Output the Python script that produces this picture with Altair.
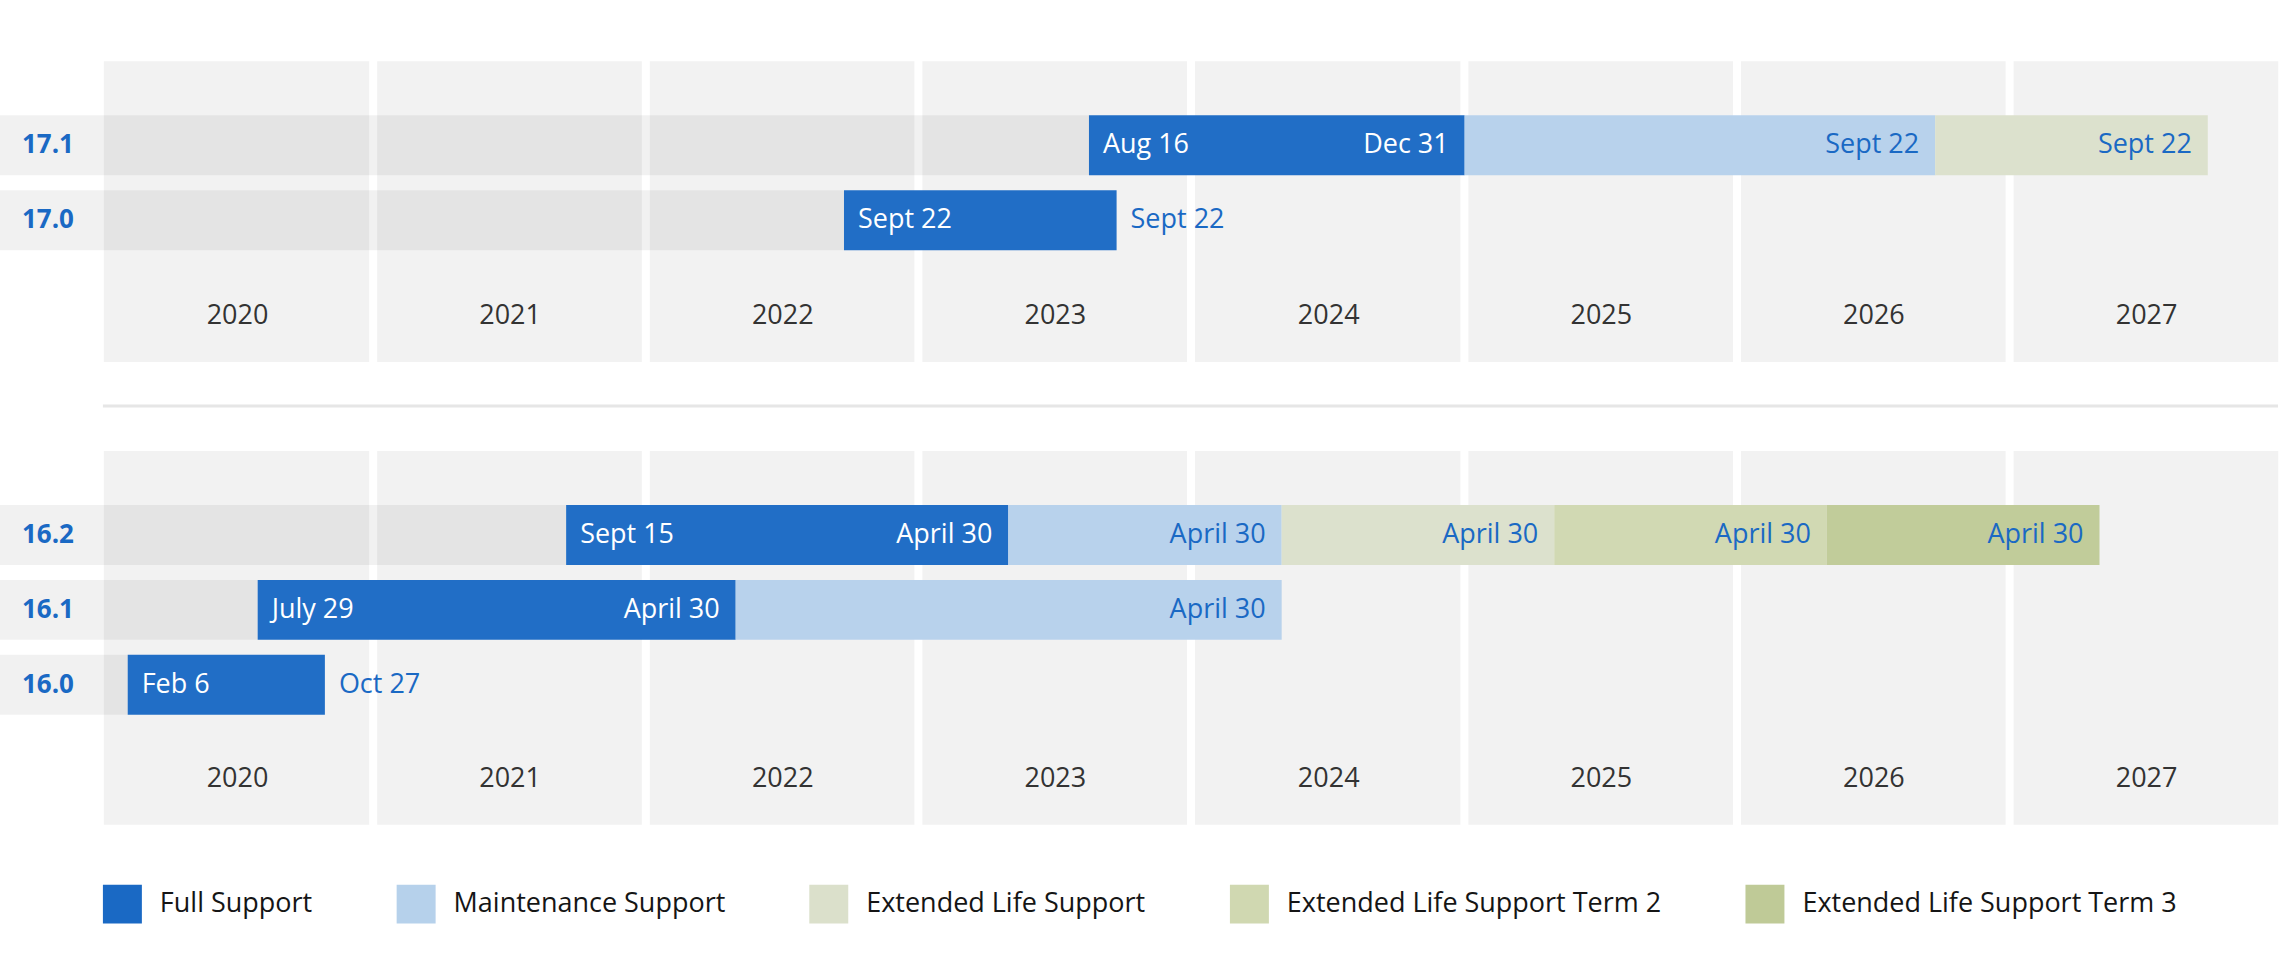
import altair as alt
import pandas as pd

# ---------------- data ----------------
releases_top = ["17.1", "17.0"]
releases_bottom = ["16.2", "16.1", "16.0"]

years = [2020, 2021, 2022, 2023, 2024, 2025, 2026, 2027]

phases = ["Full Support", "Maintenance Support", "Extended Life Support",
          "Extended Life Support Term 2", "Extended Life Support Term 3"]
phase_colors = ["#1a69c4", "#b6d1eb", "#dbe0cb", "#d0d8b1", "#bfca97"]

seg_release = ["17.1", "17.1", "17.1", "17.0",
               "16.2", "16.2", "16.2", "16.2", "16.2",
               "16.1", "16.1", "16.0"]
seg_phase = ["Full Support", "Maintenance Support", "Extended Life Support", "Full Support",
             "Full Support", "Maintenance Support", "Extended Life Support",
             "Extended Life Support Term 2", "Extended Life Support Term 3",
             "Full Support", "Maintenance Support", "Full Support"]
seg_start = ["2023-08-16", "2024-12-31", "2026-09-22", "2022-09-22",
             "2021-09-15", "2023-04-30", "2024-04-30", "2025-04-30", "2026-04-30",
             "2020-07-29", "2022-04-30", "2020-02-06"]
seg_end = ["2024-12-31", "2026-09-22", "2027-09-22", "2023-09-22",
           "2023-04-30", "2024-04-30", "2025-04-30", "2026-04-30", "2027-04-30",
           "2022-04-30", "2024-04-30", "2020-10-27"]
seg_start_label = ["Aug 16", "", "", "Sept 22",
                   "Sept 15", "", "", "", "",
                   "July 29", "", "Feb 6"]
seg_end_label = ["Dec 31", "Sept 22", "Sept 22", "Sept 22",
                 "April 30", "April 30", "April 30", "April 30", "April 30",
                 "April 30", "April 30", "Oct 27"]

# ---------------- tables ----------------
segs = pd.DataFrame({
    "release": seg_release, "phase": seg_phase,
    "start": seg_start, "end": seg_end,
    "start_label": seg_start_label, "end_label": seg_end_label,
})
counts = segs.groupby("release")["phase"].transform("count")
segs["only"] = counts == 1
segs["first"] = ~segs.duplicated("release")
segs["full"] = segs["phase"] == "Full Support"

years_df = pd.DataFrame({
    "label": [str(y) for y in years],
    "ys": [f"{y}-01-01" for y in years],
    "ye": [f"{y + 1}-01-01" for y in years],
    "ym": [f"{y}-07-02" for y in years],
})

FONT = "Open Sans"
BLUE = "#1a69c4"
FS = 27

xscale = alt.Scale(
    domain=[alt.DateTime(year=2019, month=8, date=19),
            alt.DateTime(year=2027, month=12, date=25)],
    nice=False,
)

legend = alt.Legend(
    orient="none", legendX=103, legendY=824, direction="horizontal",
    title=None, symbolType="square", symbolSize=1521, symbolStrokeWidth=0,
    symbolOpacity=1, labelFont=FONT, labelFontSize=27, labelFontWeight=500,
    labelColor="#151515", labelOffset=18, columnPadding=84, padding=0,
    labelLimit=0,
)


def panel(rels, H, separator=False):
    n = len(rels)
    yscale = alt.Scale(domain=rels, range=[46.5, 46.5 + 75 * n],
                       paddingInner=0.2, paddingOuter=0.1)
    d = segs[segs["release"].isin(rels)]
    first = d[d["first"]]
    Y = alt.Y("release:N", scale=yscale, axis=None)

    cols = alt.Chart(years_df).mark_rect(color="#f2f2f2", xOffset=3, x2Offset=-5).encode(
        x=alt.X("ys:T", scale=xscale, axis=None), x2="ye:T",
        y=alt.value(0), y2=alt.value(H))

    bands = alt.Chart(first).mark_rect(color="black", opacity=0.055).encode(
        x=alt.X("start:T", scale=xscale, axis=None), x2=alt.value(0), y=Y)

    bars = alt.Chart(d).mark_rect(opacity=0.97).encode(
        x=alt.X("start:T", scale=xscale, axis=None), x2="end:T", y=Y,
        color=alt.Color("phase:N", scale=alt.Scale(domain=phases, range=phase_colors),
                        legend=legend))

    start_lbl = alt.Chart(first).mark_text(
        align="left", baseline="middle", dx=14, color="white",
        font=FONT, fontSize=FS, fontWeight=500).encode(
        x=alt.X("start:T", scale=xscale, axis=None), y=Y, text="start_label:N")

    end_in = alt.Chart(d[~d["only"]]).mark_text(
        align="right", baseline="middle", dx=-16,
        font=FONT, fontSize=FS, fontWeight=500).encode(
        x=alt.X("end:T", scale=xscale, axis=None), y=Y, text="end_label:N",
        color=alt.condition("datum.full", alt.value("white"), alt.value(BLUE)))

    end_out = alt.Chart(d[d["only"]]).mark_text(
        align="left", baseline="middle", dx=14, color=BLUE,
        font=FONT, fontSize=FS, fontWeight=500).encode(
        x=alt.X("end:T", scale=xscale, axis=None), y=Y, text="end_label:N")

    row_lbl = alt.Chart(first).mark_text(
        align="left", baseline="middle", color=BLUE,
        font=FONT, fontSize=26, fontWeight="bold").encode(
        x=alt.value(22), y=Y, text="release:N")

    year_lbl = alt.Chart(years_df).mark_text(
        align="center", baseline="middle", color="#333333",
        font=FONT, fontSize=FS).encode(
        x=alt.X("ym:T", scale=xscale, axis=None), y=alt.value(H - 46), text="label:N")

    layers = [cols, bands, bars, start_lbl, end_in, end_out, row_lbl, year_lbl]
    if separator:
        sep = alt.Chart(pd.DataFrame({"k": [0]})).mark_rule(
            color="#e6e6e6", strokeWidth=3).encode(
            x=alt.value(103), x2=alt.value(2280), y=alt.value(-45))
        layers.append(sep)
    return alt.layer(*layers).properties(width=2280, height=H)


top = panel(releases_top, 301)
bottom = panel(releases_bottom, 374, separator=True)

chart = alt.vconcat(top, bottom, spacing=89, bounds="flush").resolve_scale(
    color="shared", y="independent", x="shared"
).resolve_legend(color="shared").properties(
    padding={"top": 61, "left": 0, "right": 0, "bottom": 0},
    background="white",
).configure_view(strokeWidth=0)

chart.save("out.html", embed_options={"renderer": "svg", "actions": False})
